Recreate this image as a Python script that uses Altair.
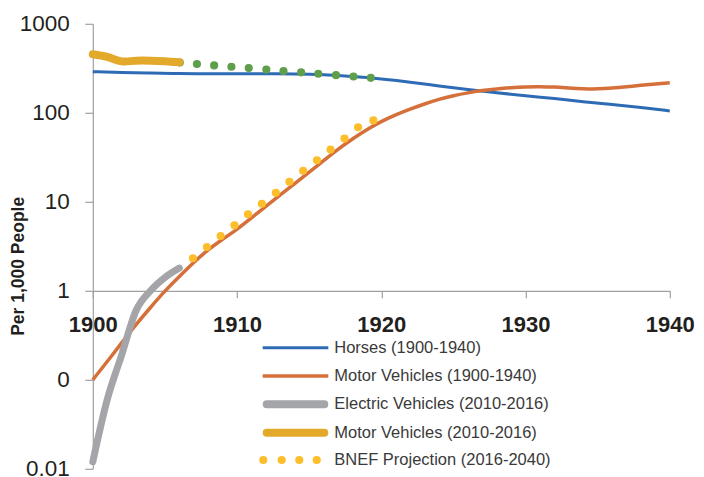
import altair as alt
import pandas as pd

# ---------------- data ----------------
horse_years = [1900, 1902, 1904, 1906, 1908, 1910, 1912, 1914, 1916, 1918, 1920,
               1922, 1924, 1926, 1928, 1930, 1932, 1934, 1936, 1938, 1940]
horses = [290, 284, 279, 276, 275, 275, 275, 274, 268, 256, 240,
          222, 200, 183, 168, 155, 145, 133, 124, 115, 105]

mv_years = list(range(1900, 1941))
motor_vehicles = [0.1, 0.16, 0.26, 0.42, 0.65, 1.0, 1.45, 2.1, 2.9, 3.8,
                  4.9, 6.6, 8.9, 12, 16, 21.5, 29, 39, 51, 65,
                  80, 95, 110, 126, 142, 156, 168, 178, 186, 192,
                  196, 197, 195, 190, 186, 185, 189, 196, 204, 211, 218]

recent_years = [1900, 1901, 1902, 1903, 1904, 1905, 1906]
electric_vehicles = [0.012, 0.06, 0.19, 0.6, 1.0, 1.41, 1.8]
motor_vehicles_recent = [455, 425, 378, 385, 385, 380, 370]

green_years = [1906.03, 1907.22, 1908.41, 1909.61, 1910.81, 1912.03,
               1913.22, 1914.44, 1915.63, 1916.86, 1918.07, 1919.27]
green_values = [367, 354, 341, 329, 318, 306, 295, 285, 275, 265, 256, 247]

bnef_years = [1906.94, 1907.91, 1908.86, 1909.82, 1910.76, 1911.72, 1912.69,
              1913.63, 1914.58, 1915.54, 1916.48, 1917.45, 1918.39, 1919.45]
bnef_values = [2.32, 3.11, 4.13, 5.44, 7.23, 9.52, 12.6,
               16.8, 22.3, 29.3, 38.6, 51.3, 68.7, 82.2]

x_ticks = [1900, 1910, 1920, 1930, 1940]
y_ticks = [0.01, 0.1, 1, 10, 100, 1000]
y_tick_labels = ["0.01", "0", "1", "10", "100", "1000"]

legend_labels = ["Horses (1900-1940)", "Motor Vehicles (1900-1940)",
                 "Electric Vehicles (2010-2016)", "Motor Vehicles (2010-2016)",
                 "BNEF Projection (2016-2040)"]

# ---------------- styling ----------------
BLUE = "#2E6BB5"
ORANGE = "#D5703A"
GRAY = "#A4A5A8"
GOLD = "#E3A92B"
GREEN = "#5F9F4C"
YELLOW = "#FDBE2C"
FONT = "Liberation Sans"
AXIS_GRAY = "#A0A0A0"
DOT = 66

W, H = 577, 445
PAD_L, PAD_T = 84.8, 15.8
PAD_R = 696 - 8 - PAD_L - W
DECADE = H / 5

label_expr = "''"
for v, lab in zip(reversed(y_ticks), reversed(y_tick_labels)):
    label_expr = f"abs(datum.value - {v}) < {v}*0.001 ? '{lab}' : ({label_expr})"

x_scale = alt.Scale(domain=[1900, 1940], nice=False)
y_scale = alt.Scale(type="log", domain=[0.01, 1000], nice=False)

x_axis = alt.Axis(values=x_ticks, format="d", offset=-2 * DECADE, grid=False, title=None,
                  domainColor=AXIS_GRAY, tickColor=AXIS_GRAY, tickSize=7, domainWidth=1.2,
                  tickWidth=1.2, labelFont=FONT, labelFontSize=22, labelFontWeight="bold",
                  labelColor="#231F20", labelPadding=16.3, labelFlush=False)
y_axis = alt.Axis(values=y_ticks, labelExpr=label_expr, grid=False,
                  title="Per 1,000 People", titleFont=FONT, titleFontSize=17.5,
                  titleFontWeight="bold", titleColor="#231F20", titleAngle=270,
                  titleX=18 - 8 - PAD_L, titleY=242, titleBaseline="middle", titleAlign="center",
                  domainColor=AXIS_GRAY, tickColor=AXIS_GRAY, tickSize=8, domainWidth=1.2,
                  tickWidth=1.2, labelFont=FONT, labelFontSize=22.5, labelColor="#231F20",
                  labelPadding=15.5, labelFlush=False)


def frame(xs, ys):
    return pd.DataFrame({"year": xs, "value": ys})


def enc(chart):
    return chart.encode(
        x=alt.X("year:Q", scale=x_scale, axis=x_axis),
        y=alt.Y("value:Q", scale=y_scale, axis=y_axis),
    )


horse_line = enc(alt.Chart(frame(horse_years, horses)).mark_line(
    color=BLUE, strokeWidth=3, interpolate="basis"))
mv_line = enc(alt.Chart(frame(mv_years, motor_vehicles)).mark_line(
    color=ORANGE, strokeWidth=3.5, interpolate="basis"))
green_dots = enc(alt.Chart(frame(green_years, green_values)).mark_circle(
    color=GREEN, size=DOT, opacity=1))
gold_line = enc(alt.Chart(frame(recent_years, motor_vehicles_recent)).mark_line(
    color=GOLD, strokeWidth=8, strokeCap="round", interpolate="cardinal"))
gray_line = enc(alt.Chart(frame(recent_years, electric_vehicles)).mark_line(
    color=GRAY, strokeWidth=7, strokeCap="round", interpolate="cardinal"))
bnef_dots = enc(alt.Chart(frame(bnef_years, bnef_values)).mark_circle(
    color=YELLOW, size=DOT, opacity=1))

layers = [horse_line, mv_line, green_dots, gold_line, gray_line, bnef_dots]

# ---------------- manual legend ----------------
one = pd.DataFrame({"a": [0]})
ox = 8 + PAD_L
oy = 8 + PAD_T
leg_x0, leg_x1, leg_tx = 262.7 - ox, 328.3 - ox, 334.3 - ox
leg_rows = [y - oy for y in [347.7, 376, 404.3, 432.7, 460]]
dot_xs = [x - ox for x in [263.3, 281.7, 299.3, 316.7]]
leg_styles = [(BLUE, 3, "butt"), (ORANGE, 3.5, "butt"), (GRAY, 8, "round"),
              (GOLD, 8, "round"), None]
for lab, ry, st in zip(legend_labels, leg_rows, leg_styles):
    if st is not None:
        col, sw, cap = st
        pad = sw / 2 if cap == "round" else 0
        layers.append(alt.Chart(one).mark_rule(color=col, strokeWidth=sw, strokeCap=cap).encode(
            x=alt.value(leg_x0 + pad), x2=alt.value(leg_x1 - pad), y=alt.value(ry)))
    else:
        for dx in dot_xs:
            layers.append(alt.Chart(one).mark_circle(color=YELLOW, size=DOT, opacity=1).encode(
                x=alt.value(dx), y=alt.value(ry)))
    layers.append(alt.Chart(one).mark_text(
        align="left", baseline="middle", font=FONT, fontSize=16.5, color="#3A3A3A").encode(
        x=alt.value(leg_tx), y=alt.value(ry), text=alt.value(lab)))

chart = alt.layer(*layers).properties(
    width=W, height=H,
    autosize=alt.AutoSizeParams(type="none"),
    padding={"left": PAD_L, "top": PAD_T, "right": PAD_R, "bottom": 12},
).configure_view(stroke=None)

chart.save("out.html", embed_options={"renderer": "svg", "actions": False})
